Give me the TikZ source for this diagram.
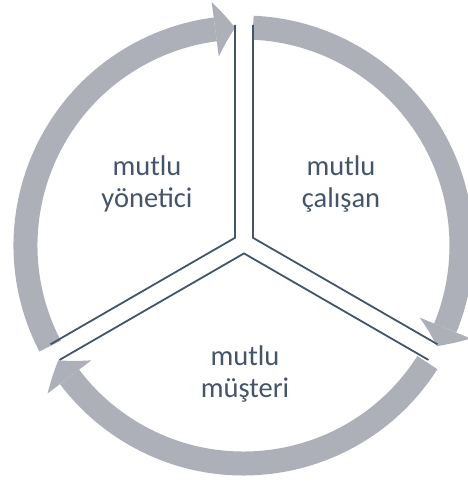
\documentclass[tikz,border=0pt]{standalone}
\usepackage{fontspec}
\setmainfont{Carlito}
\usetikzlibrary{arrows.meta,bending,calc}
\definecolor{cyclegrey}{HTML}{ADB0B8}
\definecolor{cyclenavy}{HTML}{44546A}

\begin{document}
\begin{tikzpicture}[x=1pt, y=1pt,
      band/.style={draw=cyclegrey, line width=24pt,
        -{Triangle[length=20pt, width=55pt, line width=0pt, bend]}},
      divider/.style={draw=cyclenavy, line width=1.8pt},
      cycletext/.style={text=cyclenavy, align=center,
        font=\fontsize{28.5}{31.5}\selectfont}
    ]
      \useasboundingbox (-244,-239) rectangle (223,243);
      \coordinate (mid) at (-0.5,-2.5);
      % arrows of the cycle
      \foreach \s/\e in {87.5/-27.5, -32.5/-148.2, 207.5/92.2}
        \draw[band] ($(mid)+(\s:218)$) arc[start angle=\s, end angle=\e, radius=218pt];
      % separating edges of the three parts
      \foreach \b/\n/\l/\r in {150/yon/210/90, 30/cal/90/-30, 270/mus/-30/210} {
        \coordinate (\n) at (\b:10.4);
        \draw[divider] ($(\n)+(\l:213)$) -- (\n) -- ($(\n)+(\r:213)$);
      }
      \node[cycletext] (yonetici) at (-97,59)  {mutlu\\yönetici};
      \node[cycletext] (calisan)  at (97,59)   {mutlu\\çalışan};
      \node[cycletext] (musteri)  at (1,-131)  {mutlu\\müşteri};
    \end{tikzpicture}
\end{document}
